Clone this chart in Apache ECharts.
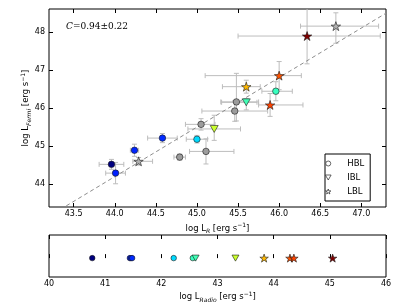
<!DOCTYPE html>
<html>
<head>
<meta charset="utf-8">
<script src="https://cdn.jsdelivr.net/npm/echarts@6/dist/echarts.min.js"></script>
<style>html,body{margin:0;padding:0;background:#fff}#c{width:407px;height:305px}</style>
</head>
<body>
<div id="c"></div>
<script>
// ---- data ----
const sourceClass = ['HBL','HBL','HBL','HBL','HBL','HBL','HBL','HBL','HBL','HBL','HBL','IBL','IBL','LBL','LBL','LBL','LBL','LBL','LBL'];
const logLR     = [44.79, 45.05, 45.11, 45.48, 45.46, 43.96, 44.01, 44.24, 44.58, 45.00, 45.96, 45.60, 45.21, 45.60, 46.00, 45.89, 46.34, 46.69, 44.29];
const logLFermi = [44.71, 45.57, 44.86, 46.16, 45.92, 44.52, 44.29, 44.89, 45.21, 45.18, 46.44, 46.15, 45.45, 46.56, 46.85, 46.08, 47.89, 48.15, 44.60];
const xErrLo    = [0.07, 0.19, 0.20, 0.19, 0.40, 0.15, 0.12, 0.05, 0.18, 0.13, 0.17, 0.30, 0.32, 0.29, 0.90, 0.14, 0.84, 0.43, 0.07];
const xErrHi    = [0.07, 0.17, 0.34, 0.27, 0.40, 0.15, 0.12, 0.05, 0.18, 0.13, 0.20, 0.13, 0.32, 0.17, 0.27, 0.40, 0.89, 0.52, 0.17];
const yErrLo    = [0.08, 0.15, 0.33, 0.50, 0.27, 0.13, 0.28, 0.16, 0.12, 0.10, 0.25, 0.20, 0.30, 0.17, 0.37, 0.30, 0.73, 0.45, 0.10];
const yErrHi    = [0.08, 0.15, 0.33, 0.75, 0.27, 0.13, 0.28, 0.16, 0.12, 0.10, 0.25, 0.10, 0.36, 0.17, 0.37, 0.30, 0.73, 0.35, 0.10];
const logLRadio = [null, null, null, null, null, 40.77, 41.44, 41.46, 41.48, 42.22, 42.56, 42.61, 43.32, 43.83, 44.29, 44.36, 45.05, null, null];
const xTicksMain = [43.5, 44.0, 44.5, 45.0, 45.5, 46.0, 46.5, 47.0];
const yTicksMain = [44, 45, 46, 47, 48];
const correlationText = 'C=0.94±0.22';
const fitLine = [[43.41, 43.43], [47.30, 48.49]];

// ---- styling ----
const FONT = 'DejaVu Sans';
const STAR = 'path://M50,0 L61.8,35.1 L98.1,35.1 L68.8,56.7 L79.4,90.9 L50,69.1 L20.6,90.9 L31.2,56.7 L1.9,35.1 L38.2,35.1 Z';
const TRI_DOWN = 'path://M0,0 L10,0 L5,8.66 Z';
const symbolOf = {HBL: 'circle', IBL: TRI_DOWN, LBL: STAR};
const sizeMain = {HBL: 6.5, IBL: 8, LBL: 9.5};
const sizeBottom = {HBL: 5.5, IBL: 7, LBL: 8.5};
const grayFill = {HBL: '#9c9c9c', IBL: '#9c9c9c', LBL: '#b0b0b0'};

const rMin = Math.min(...logLRadio.filter(v => v !== null));
const rMax = Math.max(...logLRadio.filter(v => v !== null));
function interp(stops, t) {
  for (let i = 1; i < stops.length; i++) {
    if (t <= stops[i][0]) {
      const [a, va] = stops[i - 1], [b, vb] = stops[i];
      return va + (vb - va) * (t - a) / (b - a);
    }
  }
  return stops[stops.length - 1][1];
}
function jet(v) {
  const t = (v - rMin) / (rMax - rMin);
  const r = interp([[0,0],[0.35,0],[0.66,1],[0.89,1],[1,0.5]], t);
  const g = interp([[0,0],[0.125,0],[0.375,1],[0.64,1],[0.91,0],[1,0]], t);
  const b = interp([[0,0.5],[0.11,1],[0.34,1],[0.65,0],[1,0]], t);
  return 'rgb(' + Math.round(r*255) + ',' + Math.round(g*255) + ',' + Math.round(b*255) + ')';
}

const classes = ['HBL', 'IBL', 'LBL'];
const errData = logLR.map((x, i) => [x, logLFermi[i], xErrLo[i], xErrHi[i], yErrLo[i], yErrHi[i]]);

function renderErr(params, api) {
  const x = api.value(0), y = api.value(1);
  const l = api.coord([x - api.value(2), y]);
  const r = api.coord([x + api.value(3), y]);
  const b = api.coord([x, y - api.value(4)]);
  const t = api.coord([x, y + api.value(5)]);
  const cap = 2.5;
  const st = {stroke: '#bdbdbd', lineWidth: 1};
  const ln = (x1, y1, x2, y2) => ({type: 'line', shape: {x1, y1, x2, y2}, style: st});
  return {type: 'group', children: [
    ln(l[0], l[1], r[0], r[1]),
    ln(b[0], b[1], t[0], t[1]),
    ln(l[0], l[1] - cap, l[0], l[1] + cap),
    ln(r[0], r[1] - cap, r[0], r[1] + cap),
    ln(t[0] - cap, t[1], t[0] + cap, t[1]),
    ln(b[0] - cap, b[1], b[0] + cap, b[1])
  ]};
}

const series = [
  {type: 'custom', xAxisIndex: 0, yAxisIndex: 0, renderItem: renderErr, data: errData,
   encode: {x: 0, y: 1}, clip: true, silent: true, z: 1},
  {type: 'line', xAxisIndex: 0, yAxisIndex: 0, data: fitLine, showSymbol: false, symbol: 'none',
   lineStyle: {color: '#8c8c8c', width: 1, type: [4, 3]}, clip: true, z: 2, silent: true}
];
classes.forEach(c => {
  const main = [], bottom = [];
  logLR.forEach((x, i) => {
    if (sourceClass[i] !== c) return;
    const col = logLRadio[i] === null ? grayFill[c] : jet(logLRadio[i]);
    main.push({value: [x, logLFermi[i]], itemStyle: {color: col}});
    if (logLRadio[i] !== null) bottom.push({value: [logLRadio[i], 0], itemStyle: {color: col}});
  });
  series.push({name: c, type: 'scatter', xAxisIndex: 0, yAxisIndex: 0, data: main,
    symbol: symbolOf[c], symbolSize: sizeMain[c], symbolKeepAspect: true,
    itemStyle: {borderColor: '#1a1a1a', borderWidth: 0.6, opacity: 1}, z: 5, silent: true});
  series.push({name: c, type: 'scatter', xAxisIndex: 2, yAxisIndex: 2, data: bottom,
    symbol: symbolOf[c], symbolSize: sizeBottom[c], symbolKeepAspect: true,
    itemStyle: {borderColor: '#1a1a1a', borderWidth: 0.6, opacity: 1}, z: 5, silent: true});
});

const tickStyle = {inside: true, length: 4, lineStyle: {color: '#000', width: 1}};
const labelStyle = {color: '#000', fontSize: 8, fontFamily: FONT};
const richName = {
  sub: {fontSize: 6, fontStyle: 'italic', fontFamily: FONT, verticalAlign: 'bottom', lineHeight: 6, color: '#000'},
  sup: {fontSize: 6, fontFamily: FONT, verticalAlign: 'top', lineHeight: 6, color: '#000'}
};
const nameStyle = {color: '#000', fontSize: 8.5, fontFamily: FONT, lineHeight: 12, rich: richName};

const option = {
  animation: false,
  backgroundColor: '#fff',
  grid: [
    {left: 49, top: 9, width: 337, height: 198, show: true, borderColor: '#000', borderWidth: 1, backgroundColor: 'transparent'},
    {left: 49, top: 235, width: 337, height: 42, show: true, borderColor: '#000', borderWidth: 1, backgroundColor: 'transparent'}
  ],
  xAxis: [
    {gridIndex: 0, type: 'value', min: 43.2, max: 47.3, position: 'bottom',
     axisLine: {show: false}, splitLine: {show: false},
     axisTick: Object.assign({customValues: xTicksMain}, tickStyle),
     axisLabel: Object.assign({customValues: xTicksMain, margin: 3, formatter: v => v.toFixed(1)}, labelStyle),
     name: 'log L{sub|R} [erg s{sup|−1}]', nameLocation: 'middle', nameGap: 14, nameTextStyle: nameStyle},
    {gridIndex: 0, type: 'value', min: 43.2, max: 47.3, position: 'top',
     axisLine: {show: false}, splitLine: {show: false},
     axisTick: Object.assign({customValues: xTicksMain}, tickStyle),
     axisLabel: {show: false}},
    {gridIndex: 1, type: 'value', min: 40, max: 46, interval: 1, position: 'bottom',
     axisLine: {show: false}, splitLine: {show: false},
     axisTick: tickStyle,
     axisLabel: Object.assign({margin: 3}, labelStyle),
     name: 'log L{sub|Radio} [erg s{sup|−1}]', nameLocation: 'middle', nameGap: 14, nameTextStyle: nameStyle},
    {gridIndex: 1, type: 'value', min: 40, max: 46, interval: 1, position: 'top',
     axisLine: {show: false}, splitLine: {show: false},
     axisTick: tickStyle, axisLabel: {show: false}}
  ],
  yAxis: [
    {gridIndex: 0, type: 'value', min: 43.4, max: 48.6, position: 'left',
     axisLine: {show: false}, splitLine: {show: false},
     axisTick: Object.assign({customValues: yTicksMain}, tickStyle),
     axisLabel: Object.assign({customValues: yTicksMain, margin: 4}, labelStyle),
     name: 'log L{sub|Fermi} [erg s{sup|−1}]', nameLocation: 'middle', nameGap: 17, nameMoveOverlap: false,
     nameRotate: 90, nameTextStyle: nameStyle},
    {gridIndex: 0, type: 'value', min: 43.4, max: 48.6, position: 'right',
     axisLine: {show: false}, splitLine: {show: false},
     axisTick: Object.assign({customValues: yTicksMain}, tickStyle),
     axisLabel: {show: false}},
    {gridIndex: 1, type: 'value', min: -0.9, max: 1.1, show: false}
  ],
  legend: {
    left: 325, top: 154, orient: 'vertical',
    padding: [4, 6, 4, 0], itemGap: 3, itemWidth: 28, itemHeight: 5,
    borderColor: '#000', borderWidth: 1, backgroundColor: '#fff',
    textStyle: {color: '#000', fontSize: 8.5, fontFamily: FONT, lineHeight: 11},
    selectedMode: false,
    data: [
      {name: 'HBL', icon: 'circle', itemStyle: {color: '#fff', borderColor: '#222', borderWidth: 0.7}},
      {name: 'IBL', icon: TRI_DOWN, itemStyle: {color: '#fff', borderColor: '#222', borderWidth: 0.7}},
      {name: 'LBL', icon: STAR, itemStyle: {color: '#fff', borderColor: '#222', borderWidth: 0.7}}
    ]
  },
  graphic: [
    {type: 'text', left: 66, top: 22, z: 10,
     style: {text: '{i|C}' + correlationText.slice(1), fill: '#000', fontSize: 9, fontFamily: 'DejaVu Serif',
             rich: {i: {fontStyle: 'italic', fontSize: 9, fontFamily: 'DejaVu Serif'}}}}
  ],
  series: series
};

const chart = echarts.init(document.getElementById('c'), null, {renderer: 'canvas'});
chart.setOption(option);
</script>
</body>
</html>
